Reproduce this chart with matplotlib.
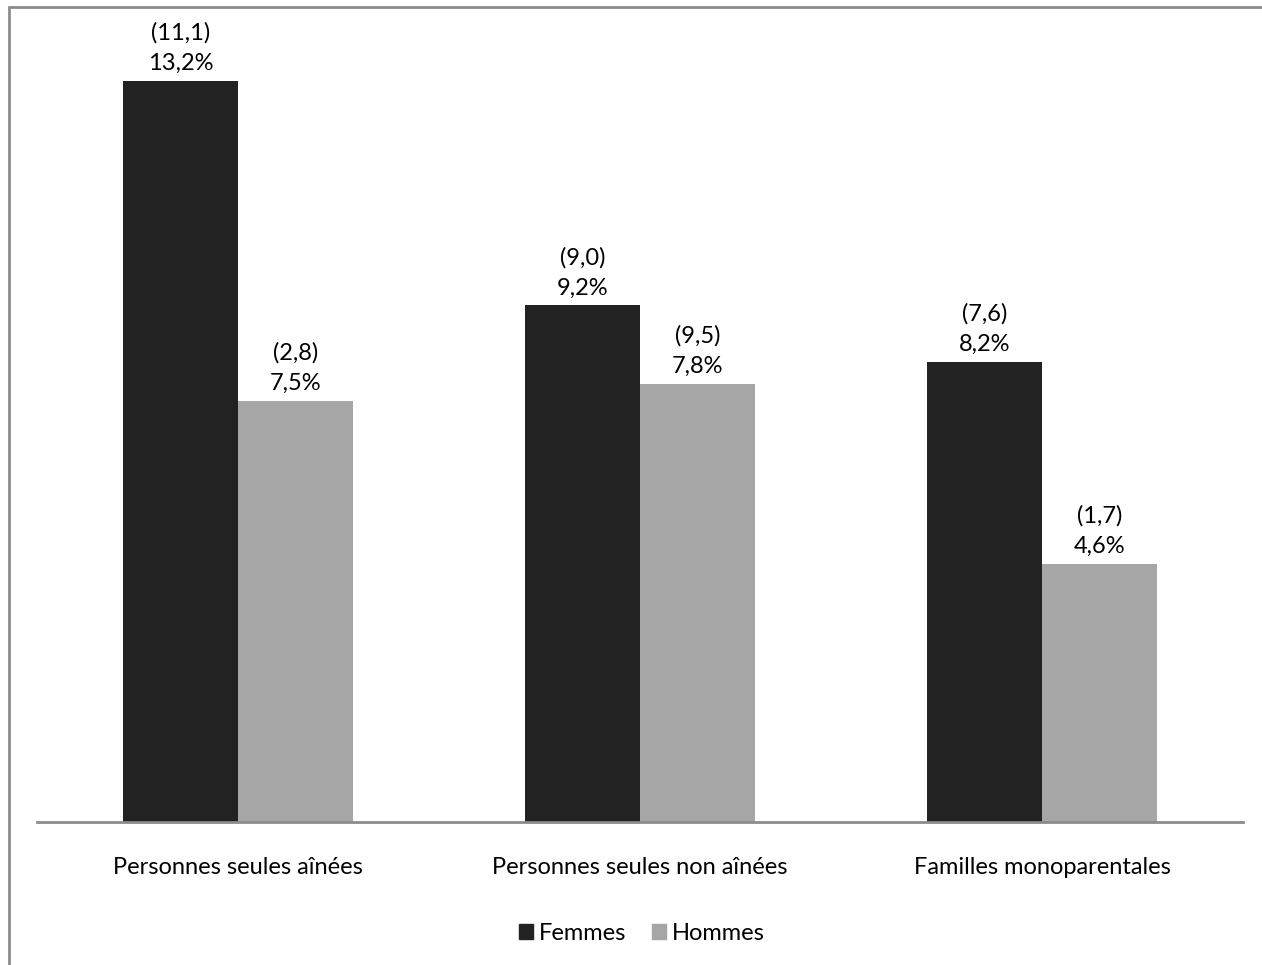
import numpy as np
import matplotlib.pyplot as plt
from matplotlib.patches import Rectangle, Patch

plt.rcParams['font.family'] = ['Lato', 'DejaVu Sans']

# Data
categories = ['Personnes seules aînées', 'Personnes seules non aînées', 'Familles monoparentales']
femmes_pct = [13.2, 9.2, 8.2]
hommes_pct = [7.5, 7.8, 4.6]
femmes_nb = [11.1, 9.0, 7.6]
hommes_nb = [2.8, 9.5, 1.7]

FEMMES_COLOR = '#222222'
HOMMES_COLOR = '#a6a6a6'
AXIS_COLOR = '#8c8c8c'
W, H = 1262, 965


def fr(v):
    return f'{v:.1f}'.replace('.', ',')


fig = plt.figure(figsize=(W / 100, H / 100), dpi=100)

# gray chart frame (cut by the image edges)
fig.patches.append(Rectangle((9 / W, -0.1), 1.2, (H - 7) / H + 0.1,
                             transform=fig.transFigure, fill=False,
                             edgecolor=AXIS_COLOR, linewidth=2))

ax = fig.add_axes([37 / W, (H - 822) / H, 1206 / W, 786 / H])

x = np.arange(len(categories))
bw = 0.286
b1 = ax.bar(x - bw / 2, femmes_pct, bw, color=FEMMES_COLOR, label='Femmes')
b2 = ax.bar(x + bw / 2, hommes_pct, bw, color=HOMMES_COLOR, label='Hommes')

for bars, pct, nb in ((b1, femmes_pct, femmes_nb), (b2, hommes_pct, hommes_nb)):
    for rect, p, n in zip(bars, pct, nb):
        ax.annotate(f'({fr(n)})\n{fr(p)}%',
                    (rect.get_x() + rect.get_width() / 2, rect.get_height()),
                    xytext=(0, 5), textcoords='offset points',
                    ha='center', va='bottom', fontsize=17, linespacing=1.55)

ax.set_xlim(-0.5, 2.5)
ax.set_ylim(0, 14)
ax.set_yticks([])
ax.set_xticks(x)
ax.set_xticklabels(categories, fontsize=17)
ax.tick_params(axis='x', length=0, pad=25)
for s in ('top', 'right', 'left'):
    ax.spines[s].set_visible(False)
ax.spines['bottom'].set_color(AXIS_COLOR)
ax.spines['bottom'].set_linewidth(2)

handles = [Patch(color=FEMMES_COLOR), Patch(color=HOMMES_COLOR)]
fig.legend(handles, ['Femmes', 'Hommes'], loc='center', bbox_to_anchor=(642 / W, (H - 933) / H),
           ncol=2, frameon=False, fontsize=17, handlelength=0.6, handleheight=0.6,
           handletextpad=0.25, columnspacing=1.1)

fig.savefig('out.png', dpi=100)
